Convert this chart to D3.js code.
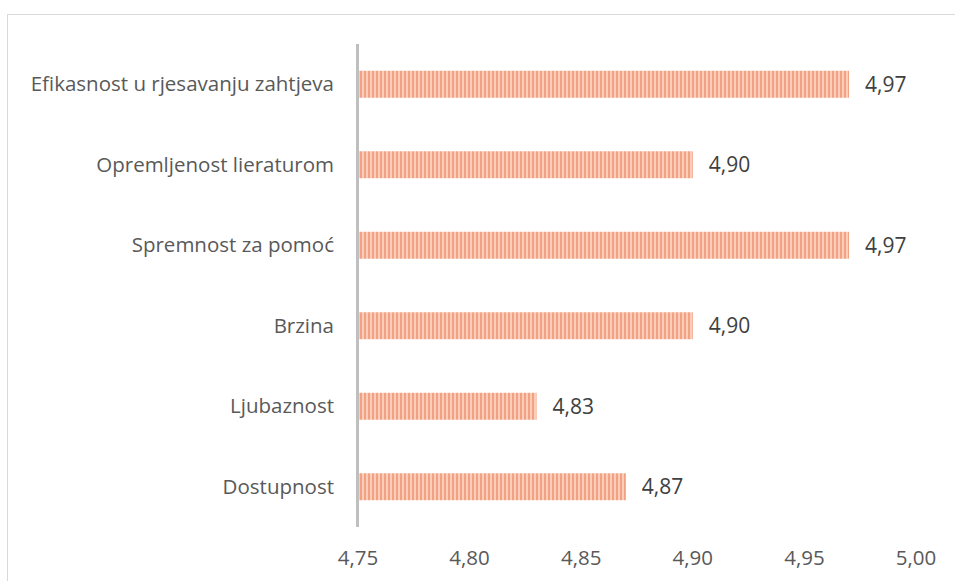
<!DOCTYPE html>
<html>
<head>
<meta charset="utf-8">
<script src="https://cdn.jsdelivr.net/npm/d3@7"></script>
<style>
  body { margin: 0; background: #fff; }
  svg { display: block; }
  text { font-family: "Open Sans", sans-serif; }
</style>
</head>
<body>
<svg id="chart" width="955" height="581"></svg>
<script>
const categories = ["Efikasnost u rjesavanju zahtjeva", "Opremljenost lieraturom", "Spremnost za pomoć", "Brzina", "Ljubaznost", "Dostupnost"];
const values = [4.97, 4.90, 4.97, 4.90, 4.83, 4.87];
const tickValues = [4.75, 4.80, 4.85, 4.90, 4.95, 5.00];

const svg = d3.select("#chart");
const fmt = v => d3.format(".2f")(v).replace(".", ",");

// chart frame
svg.append("rect")
  .attr("x", 7.5).attr("y", 14.5)
  .attr("width", 960).attr("height", 600)
  .attr("fill", "none").attr("stroke", "#d9d9d9").attr("stroke-width", 1);

// stripe pattern
const defs = svg.append("defs");
const pat = defs.append("pattern")
  .attr("id", "stripes").attr("patternUnits", "userSpaceOnUse")
  .attr("width", 4).attr("height", 10);
pat.append("rect").attr("width", 4).attr("height", 10).attr("fill", "#f9cdb9");
pat.append("rect").attr("width", 2).attr("height", 10).attr("fill", "#f2a283");

const x = d3.scaleLinear().domain([4.75, 5.00]).range([358, 916]);
const y = d3.scaleBand().domain(categories).range([44, 527]).paddingInner(0.665).paddingOuter(0.3325);

// bars
svg.append("g").selectAll("rect")
  .data(categories)
  .join("rect")
  .attr("x", x(4.75))
  .attr("y", d => y(d))
  .attr("width", (d, i) => x(values[i]) - x(4.75))
  .attr("height", y.bandwidth())
  .attr("fill", "url(#stripes)");

// value labels
svg.append("g").selectAll("text")
  .data(categories)
  .join("text")
  .attr("x", (d, i) => x(values[i]) + 16)
  .attr("y", d => y(d) + y.bandwidth() / 2)
  .attr("dy", "0.35em")
  .attr("font-size", 21)
  .attr("fill", "#404040")
  .text((d, i) => fmt(values[i]));

// category labels
svg.append("g").selectAll("text")
  .data(categories)
  .join("text")
  .attr("x", 334)
  .attr("y", d => y(d) + y.bandwidth() / 2)
  .attr("dy", "0.35em")
  .attr("text-anchor", "end")
  .attr("font-size", 20.5)
  .attr("fill", "#595959")
  .text(d => d);

// x tick labels
svg.append("g").selectAll("text")
  .data(tickValues)
  .join("text")
  .attr("x", d => x(d))
  .attr("y", 558)
  .attr("dy", "0.35em")
  .attr("text-anchor", "middle")
  .attr("font-size", 20.5)
  .attr("fill", "#595959")
  .text(d => fmt(d));

// vertical axis line
svg.append("line")
  .attr("x1", x(4.75) - 0.5).attr("x2", x(4.75) - 0.5)
  .attr("y1", 44).attr("y2", 527)
  .attr("stroke", "#bfbfbf").attr("stroke-width", 3);
</script>
</body>
</html>
